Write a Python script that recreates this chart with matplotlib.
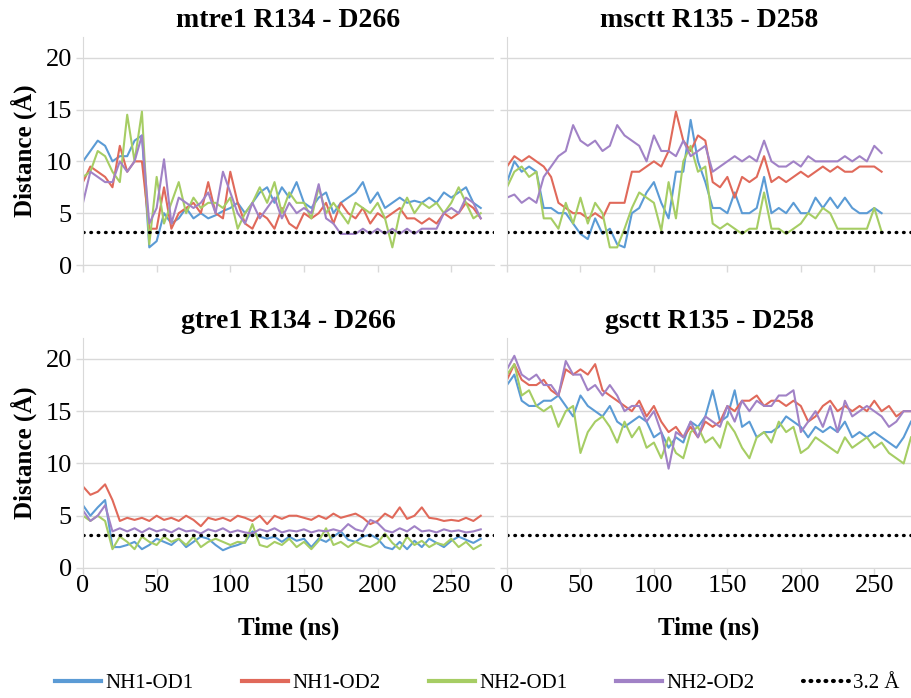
import matplotlib
matplotlib.use("Agg")
import matplotlib.pyplot as plt
from matplotlib.lines import Line2D
import numpy as np

plt.rcParams['font.family'] = ['Liberation Serif', 'DejaVu Serif']

# time axes (ns)
t_left = np.arange(0, 271, 5)
t_tr = np.arange(0, 256, 5)
t_br = np.arange(0, 276, 5)

names = ['NH1-OD1', 'NH1-OD2', 'NH2-OD1', 'NH2-OD2']
cutoff = 3.2

# mtre1 R134 - D266
mtre1_nh1_od1 = [10, 11, 12, 11.5, 10, 10.5, 10.5, 12, 12.5, 1.7,
                 2.3, 5, 4, 4.5, 5.5, 4.5, 5, 4.5, 4.8, 5.2,
                 5.5, 6, 5, 6, 7, 7.5, 6, 7.5, 6.5, 8,
                 6, 5.5, 6.5, 7, 5, 6, 6.5, 7, 8, 6,
                 7, 5.5, 6, 6.5, 6, 6.2, 6, 6.5, 6, 7,
                 6.5, 7, 7.5, 6, 5.5]
mtre1_nh1_od2 = [8, 9.5, 9, 8.5, 7.5, 11.5, 9, 10, 10, 3.5,
                 3.5, 7.5, 3.5, 5, 5.5, 6, 5, 8, 5, 4.5,
                 9, 6, 4, 3.5, 5, 4.5, 3.5, 5.5, 4, 3.5,
                 5, 4.5, 5, 6, 4, 6, 5, 4.5, 5.5, 4,
                 5, 4.5, 5, 5.5, 4.5, 4.5, 4, 4.5, 4, 5,
                 4.5, 5, 6, 5.5, 4.5]
mtre1_nh2_od1 = [8.5, 9, 11, 10.5, 9, 8, 14.5, 10, 14.8, 2,
                 8.5, 4, 6, 8, 5, 6.5, 5.5, 6, 6, 5.5,
                 6.5, 3.5, 5, 6, 7.5, 6, 8, 5, 7, 6,
                 6, 4.5, 7.5, 5, 6, 5, 4, 6, 5.5, 5,
                 6, 4.5, 1.7, 5, 6.5, 5, 6, 5.5, 6, 5,
                 6, 7.5, 6, 4.5, 5]
mtre1_nh2_od2 = [6, 9, 8.5, 8, 8, 10, 9, 10, 12.5, 4,
                 5.5, 10.2, 4, 6.5, 6, 5.5, 6, 7, 5, 9,
                 7, 5, 4, 6, 4.5, 5.5, 6.5, 4.5, 6, 5,
                 5.5, 5, 7.8, 4.5, 4, 3, 3, 3, 3.5, 3,
                 3.5, 3, 3.5, 3, 3.5, 3, 3.5, 3.5, 3.5, 5,
                 5.5, 5, 6.5, 6, 4.5]

# msctt R135 - D258
msctt_nh1_od1 = [8, 10, 9, 9.5, 9, 5.5, 5.5, 5, 5, 4,
                 3, 2.5, 4.5, 3, 3.5, 2, 1.7, 5, 5.5, 7,
                 8, 6, 4.5, 9, 9, 14, 10, 8, 5.5, 5.5,
                 5, 7, 5, 5, 5.5, 8.5, 5, 5.5, 5, 6,
                 5, 5, 6.5, 5.5, 6.5, 5.5, 6.5, 5.5, 5, 5,
                 5.5, 5]
msctt_nh1_od2 = [9.5, 10.5, 10, 10.5, 10, 9.5, 8.5, 6, 5.5, 5,
                 5, 4.5, 5, 4.5, 6, 6, 6, 9, 9, 9.5,
                 10, 9.5, 11, 14.8, 12, 11, 12.5, 12, 8, 7.5,
                 8.5, 6.5, 8.5, 8, 8.5, 10.5, 8, 8.5, 8, 8.5,
                 9, 8.5, 9, 9.5, 9, 9.5, 9, 9, 9.5, 9.5,
                 9.5, 9]
msctt_nh2_od1 = [7.5, 9, 9.5, 8.5, 9, 4.5, 4.5, 3.5, 6, 4,
                 6.5, 4, 6, 5, 1.7, 1.7, 3.5, 5.5, 7, 6.5,
                 6, 3.3, 8, 4.5, 10, 11.5, 9, 9.5, 4, 3.5,
                 4, 3.5, 3, 3.5, 3.5, 7, 3.5, 3.5, 3, 3.5,
                 4, 5, 4.5, 5.5, 5, 3.5, 3.5, 3.5, 3.5, 3.5,
                 5.5, 3.2]
msctt_nh2_od2 = [6.5, 6.8, 6, 6.5, 6, 8.5, 9.5, 10.5, 11, 13.5,
                 12, 11.5, 12, 11, 11.5, 13.5, 12.5, 12, 11.5, 10,
                 12.5, 11, 11, 10.5, 12, 10.5, 11, 11.5, 9, 9.5,
                 10, 10.5, 10, 10.5, 10, 12, 10, 9.5, 9.5, 10,
                 9.5, 10.5, 10, 10, 10, 10, 10.5, 10, 10.5, 10,
                 11.5, 10.8]

# gtre1 R134 - D266
gtre1_nh1_od1 = [6, 5, 5.8, 6.5, 2, 2, 2.2, 2.5, 1.8, 2.2,
                 2.8, 2.5, 2.2, 2.8, 2, 2.5, 3, 2.8, 2.2, 1.7,
                 2, 2.2, 2.5, 3.5, 3, 2.8, 3, 2.5, 3, 2.6,
                 2.8, 2, 2.8, 2.5, 3, 3.5, 2.7, 2.5, 3, 3.2,
                 2.8, 2, 1.8, 2.5, 1.8, 2.6, 2, 2.8, 2.4, 2,
                 2.6, 3, 2.7, 2.4, 2.8]
gtre1_nh1_od2 = [7.8, 7, 7.3, 8, 6.5, 4.5, 4.8, 4.6, 4.8, 4.5,
                 5, 4.6, 4.8, 4.5, 5, 4.6, 4, 4.8, 4.6, 4.8,
                 4.5, 5, 4.8, 4.5, 5, 4.2, 5, 4.7, 5, 5,
                 4.8, 4.6, 5, 4.7, 5.2, 4.8, 5, 5.2, 4.8, 4.2,
                 4.5, 5.2, 4.8, 5.8, 4.7, 5, 5.8, 4.8, 4.7, 4.5,
                 4.6, 4.5, 4.8, 4.5, 5]
gtre1_nh2_od1 = [5, 4.5, 5, 4.5, 1.8, 3, 2.5, 1.8, 3, 2.5,
                 2.2, 3, 2.5, 2.8, 2.2, 3, 2, 2.5, 2.8, 2.5,
                 2.2, 2.5, 2.4, 4.2, 2.2, 2, 2.5, 2.2, 2.8, 2,
                 2.5, 1.8, 2.6, 3.8, 2.2, 2.5, 2, 2.5, 2.2, 2,
                 2.4, 3.3, 2.4, 1.8, 3, 2.2, 2.6, 2, 2.4, 2.2,
                 2.8, 2, 2.5, 1.8, 2.2]
gtre1_nh2_od2 = [5.5, 4.5, 5, 6, 3.5, 3.8, 3.5, 3.8, 3.4, 3.8,
                 3.5, 3.7, 3.4, 3.8, 3.5, 3.6, 3.3, 3.7, 3.5, 3.8,
                 3.4, 3.6, 3.4, 3.3, 3.7, 3.5, 3.8, 3.4, 3.6, 3.5,
                 3.7, 3.4, 3.6, 3.5, 3.7, 3.5, 4.2, 3.7, 3.5, 4.6,
                 4.3, 3.6, 3.4, 3.8, 3.5, 4, 3.5, 3.6, 3.4, 3.7,
                 3.5, 3.6, 3.4, 3.5, 3.7]

# gsctt R135 - D258
gsctt_nh1_od1 = [17.5, 18.5, 16, 15.5, 15.5, 16, 16, 16.5, 15.5, 14.5,
                 16.5, 15.5, 15, 14.5, 15.5, 14, 13.5, 14, 14.5, 14,
                 12.5, 13, 11.5, 12.5, 12, 14, 13.5, 14.5, 17, 14,
                 14.5, 17, 13.5, 14, 12.5, 13, 13, 13.5, 14.5, 14,
                 13.5, 12.5, 13.5, 13, 13.5, 13, 14, 12.5, 13, 12.5,
                 13, 12.5, 12, 11.5, 12.5, 14]
gsctt_nh1_od2 = [18, 19.5, 18, 17.5, 17.5, 18, 17, 16.5, 19, 18.5,
                 19, 18.5, 19.5, 17, 16.5, 16, 15.5, 15, 16, 14.5,
                 15.5, 14, 13, 13.5, 12.5, 13.5, 12.5, 14, 13.5, 14,
                 15.5, 15, 16, 16, 16.5, 15.5, 16, 16, 15.5, 16,
                 15.5, 14, 14.5, 15.5, 16, 15, 15.5, 15, 15.5, 15,
                 16, 15, 15.5, 14.5, 15, 15]
gsctt_nh2_od1 = [18.5, 19.5, 16.5, 17, 15.5, 15, 15.5, 13.5, 15, 15.5,
                 11, 13, 14, 14.5, 13.5, 12, 14, 12.5, 13.5, 11.5,
                 12, 10.5, 12.5, 11, 10.5, 13, 13.5, 12, 12.5, 11.5,
                 14, 13, 11.5, 10.5, 12.5, 13, 12, 14, 13, 13.5,
                 11, 11.5, 12.5, 12, 11.5, 11, 12.5, 11.5, 12, 12.5,
                 11.5, 12, 11, 10.5, 10, 12.5]
gsctt_nh2_od2 = [19, 20.3, 18.5, 18, 18.5, 17.5, 17.5, 16.5, 19.8, 18.5,
                 18.5, 17, 17.5, 16.5, 17.5, 16.5, 15, 15.5, 15.5, 14,
                 15, 13, 9.5, 13, 12.5, 14, 12.5, 14.5, 14, 13.5,
                 15.5, 14, 16, 15, 16, 15.5, 15.5, 16.5, 16.5, 17,
                 13, 14, 15, 13.5, 15.5, 13, 16, 14.5, 15, 15.5,
                 15, 14.5, 13.5, 14, 15, 15]

colors = ['#5b9bd5', '#e0695a', '#a6cd64', '#a182c6']
grid_c = '#d9d9d9'

fig = plt.figure(figsize=(9.11, 6.98), dpi=100)
W, H = 911, 698

panels = [
    ('mtre1 R134 - D266', t_left, [mtre1_nh1_od1, mtre1_nh1_od2, mtre1_nh2_od1, mtre1_nh2_od2],
     (83, 37, 494, 265), 279, True, False),
    ('msctt R135 - D258', t_tr, [msctt_nh1_od1, msctt_nh1_od2, msctt_nh2_od1, msctt_nh2_od2],
     (507, 37, 911, 265), 275, False, False),
    ('gtre1 R134 - D266', t_left, [gtre1_nh1_od1, gtre1_nh1_od2, gtre1_nh2_od1, gtre1_nh2_od2],
     (83, 338, 494, 568), 279, True, True),
    ('gsctt R135 - D258', t_br, [gsctt_nh1_od1, gsctt_nh1_od2, gsctt_nh2_od1, gsctt_nh2_od2],
     (507, 338, 911, 568), 275, False, True),
]

for title, t, series, (x0, y0, x1, y1), xmax, ylab, xlab in panels:
    ax = fig.add_axes([x0 / W, 1 - y1 / H, (x1 - x0) / W, (y1 - y0) / H])
    for s, c in zip(series, colors):
        ax.plot(t, s, color=c, lw=1.5)
    ax.axhline(cutoff, color='black', lw=2.4, ls=(0, (0.2, 2.0)), dash_capstyle='round')
    ax.set_xlim(0, xmax)
    ax.set_ylim(0, 22)
    ax.set_xticks(range(0, 251, 50))
    ax.set_yticks(range(0, 21, 5))
    ax.yaxis.grid(True, color=grid_c, lw=1)
    ax.set_axisbelow(True)
    for side in ['top', 'right']:
        ax.spines[side].set_visible(False)
    for side in ['left', 'bottom']:
        ax.spines[side].set_color(grid_c)
    ax.tick_params(axis='both', colors=grid_c, labelcolor='black', labelsize=19,
                   length=5, width=1, direction='out')
    ax.tick_params(axis='x', pad=0)
    ax.tick_params(axis='y', pad=3)
    if not ylab:
        ax.tick_params(axis='y', labelleft=False)
    else:
        ax.set_ylabel('Distance (Å)', fontsize=18, fontweight='bold', labelpad=6)
    if not xlab:
        ax.tick_params(axis='x', labelbottom=False)
    else:
        ax.set_xlabel('Time (ns)', fontsize=18, fontweight='bold', labelpad=14)
    ax.set_title(title, fontsize=20, fontweight='bold', pad=7)

handles = [Line2D([], [], color=c, lw=3) for c in colors]
handles.append(Line2D([], [], color='black', lw=3, ls=(0, (0.2, 1.6)), dash_capstyle='round'))
fig.legend(handles, names + ['3.2 Å'], loc='center', bbox_to_anchor=(0.524, 1 - 683 / H),
           ncol=5, frameon=False, fontsize=15, handlelength=2.2, handletextpad=0.2,
           columnspacing=2.35)

fig.savefig('out.png', dpi=100)
